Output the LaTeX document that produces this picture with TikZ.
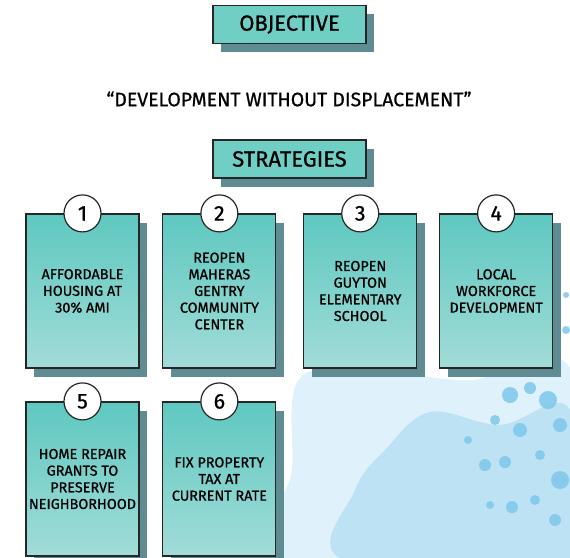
\documentclass[tikz,border=0pt]{standalone}
\usepackage{fontspec}
\setmainfont{Fira Sans}[FakeBold=0.8]
\usetikzlibrary{positioning,shadows}
\definecolor{tealbox}{HTML}{6FCFC5}
\definecolor{tealtop}{HTML}{5EC8C0}
\definecolor{tealbot}{HTML}{A2DCD8}
\definecolor{shadowgray}{HTML}{5F8B92}
\definecolor{splashlight}{HTML}{DFF1FA}
\definecolor{splashmid}{HTML}{B4DFF2}
\definecolor{splashdot}{HTML}{7DC7EA}

\begin{document}
\begin{tikzpicture}[
  x=0.75pt, y=-0.75pt,
  boxshadow/.style={drop shadow={shadow xshift=6pt, shadow yshift=-6.5pt, fill=shadowgray, opacity=1}},
  title/.style={draw=black!85, line width=1pt, fill=tealbox, minimum width=114.75pt, minimum height=28.5pt, inner sep=0pt, font=\fontsize{16.5}{18}\selectfont, boxshadow},
  card/.style={draw=black!85, line width=0.9pt, top color=tealtop, bottom color=tealbot, minimum width=84.75pt, minimum height=115.5pt, inner sep=2pt, align=center, font=\fontsize{10.8}{12.5}\selectfont, boxshadow},
  num/.style={circle, draw=black!85, line width=0.9pt, fill=white, minimum size=27.75pt, inner sep=0pt, font=\fontsize{16}{16}\selectfont}
]
\useasboundingbox (0,0) rectangle (570,557);
\clip (0,0) rectangle (570,557);

% watercolour splash
\fill[splashlight] plot[smooth cycle, tension=0.6] coordinates {(300,378) (380,372) (470,380) (570,368) (570,560) (285,560) (292,470)};
\fill[splashmid, opacity=0.8] plot[smooth cycle, tension=0.6] coordinates {(430,412) (500,425) (570,410) (570,560) (345,560) (355,490) (385,450)};
\foreach \cx/\cy/\r in {510/395/8, 530/388/6, 548/400/9, 560/425/7, 495/420/5, 520/430/7, 540/455/5, 505/462/6, 485/465/6, 560/480/9, 535/500/5, 512/507/6, 490/505/4, 555/520/6, 468/440/4, 566/330/4, 566/295/3, 545/338/4}
  \fill[splashdot, opacity=0.85] (\cx,\cy) circle[radius=\r];

% headings
\node[title] (objective) at (289.5,24.5) {OBJECTIVE};
\node[font=\fontsize{14.6}{16}\selectfont] (motto) at (289,99) {“DEVELOPMENT WITHOUT DISPLACEMENT”};
\node[title] (strategies) at (289.5,159) {STRATEGIES};

% strategy cards
\node[card] (s1) at (82.5,291) {AFFORDABLE\\HOUSING AT\\30\% AMI};
\node[card, right=17pt of s1] (s2) {REOPEN\\MAHERAS\\GENTRY\\COMMUNITY\\CENTER};
\node[card, right=20pt of s2] (s3) {REOPEN\\GUYTON\\ELEMENTARY\\SCHOOL};
\node[card, right=16.25pt of s3] (s4) {LOCAL\\WORKFORCE\\DEVELOPMENT};
\node[card] (s5) at (82.5,479) {HOME REPAIR\\GRANTS TO\\PRESERVE\\NEIGHBORHOOD};
\node[card, right=17pt of s5] (s6) {FIX PROPERTY\\TAX AT\\CURRENT RATE};

% numbers
\foreach \k in {1,...,6}
  \node[num] (n\k) at (s\k.north) {\k};
\end{tikzpicture}
\end{document}
